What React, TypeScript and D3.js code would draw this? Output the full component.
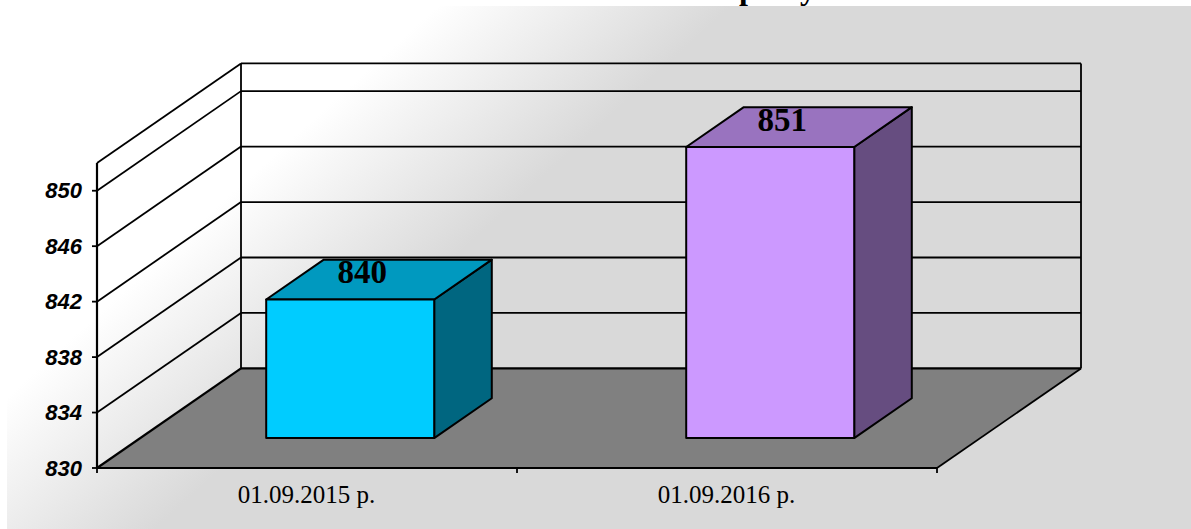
import React from "react";
import * as d3 from "d3";

const categories = ["01.09.2015 р.", "01.09.2016 р."];
const values = [840, 851];
const frontColors = ["#00CCFF", "#CC99FF"];
const topColors = ["#0099BF", "#9973BF"];
const sideColors = ["#006680", "#664D80"];
const yTicks = [830, 834, 838, 842, 846, 850];
const gridValues = [834, 838, 842, 846, 850];
const yDomain = [830, 852];
const titleFragments = [
  { text: "р", x: 739 },
  { text: "у", x: 800 },
];

const W = 1191;
const H = 529;
const x = d3.scaleBand<string>().domain(categories).range([97, 937]).paddingInner(0).paddingOuter(0);
const y = d3.scaleLinear().domain(yDomain).range([468, 163]);
const depthX = d3.scaleLinear().domain([0, 1]).range([0, 144]);
const depthY = d3.scaleLinear().domain([0, 1]).range([0, -99.6]);

// 3D projection: front-plane x, value, depth (0 = front, 1 = back)
const P = (px: number, v: number, z: number): [number, number] => [px + depthX(z), y(v) + depthY(z)];
const path = (pts: [number, number][]) => (d3.line()(pts) || "") + "Z";
const seg = (a: [number, number], b: [number, number]) => d3.line()([a, b]) || "";

const barZ0 = 0.3;
const barZ1 = 0.7;
const barPad = 0.3;
const v0 = yDomain[0];
const v1 = yDomain[1];
const x0 = 97;
const x1 = 937;

export default function App() {
  const stroke = { stroke: "#000", fill: "none" };
  return (
    <svg
      width={W}
      height={H}
      viewBox={`0 0 ${W} ${H}`}
      style={{ position: "fixed", left: 0, top: 0, display: "block", background: "#fff" }}
    >
      <defs>
        <linearGradient id="bg" gradientUnits="userSpaceOnUse" x1={201} y1={221} x2={333.5} y2={367}>
          <stop offset="0" stopColor="#ffffff" />
          <stop offset="1" stopColor="#d9d9d9" />
        </linearGradient>
      </defs>

      {titleFragments.map((t) => (
        <text key={t.x} x={t.x} y={-1} fontFamily="Liberation Serif" fontWeight="bold" fontSize={32} fill="#000">
          {t.text}
        </text>
      ))}
      <rect x={7} y={6} width={W - 7} height={H - 6} fill="url(#bg)" />

      {/* floor */}
      <path d={path([P(x0, v0, 0), P(x1, v0, 0), P(x1, v0, 1), P(x0, v0, 1)])} fill="#808080" />

      {/* gridlines */}
      {gridValues.map((v) => (
        <g key={v} {...stroke} strokeWidth={1.8}>
          <path d={seg(P(x0, v, 0), P(x0, v, 1))} />
          <path d={seg(P(x0, v, 1), P(x1, v, 1))} />
        </g>
      ))}

      {/* walls */}
      <g {...stroke} strokeWidth={1.8}>
        <path d={seg(P(x0, v1, 0), P(x0, v1, 1))} />
        <path d={seg(P(x0, v1, 1), P(x1, v1, 1))} />
        <path d={seg(P(x0, v0, 1), P(x0, v1, 1))} />
        <path d={seg(P(x1, v0, 1), P(x1, v1, 1))} />
        <path d={seg(P(x1, v0, 0), P(x1, v0, 1))} />
      </g>
      <g {...stroke} strokeWidth={2.2}>
        <path d={seg(P(x0, v0, 0), P(x0, v1, 0))} />
        <path d={seg(P(x0, v0, 0), P(x0, v0, 1))} />
        <path d={seg(P(x0, v0, 1), P(x1, v0, 1))} />
        <path d={seg(P(x0, v0, 0), P(x1, v0, 0))} />
      </g>

      {/* bars */}
      {categories.map((c, i) => {
        const band = x.bandwidth();
        const l = (x(c) as number) + band * barPad;
        const r = (x(c) as number) + band * (1 - barPad);
        const v = values[i];
        return (
          <g key={c} stroke="#000" strokeWidth={2} strokeLinejoin="round">
            <path
              d={path([P(r, v0, barZ0), P(r, v0, barZ1), P(r, v, barZ1), P(r, v, barZ0)])}
              fill={sideColors[i]}
            />
            <path
              d={path([P(l, v, barZ0), P(r, v, barZ0), P(r, v, barZ1), P(l, v, barZ1)])}
              fill={topColors[i]}
            />
            <path
              d={path([P(l, v0, barZ0), P(r, v0, barZ0), P(r, v, barZ0), P(l, v, barZ0)])}
              fill={frontColors[i]}
            />
          </g>
        );
      })}

      {/* data labels */}
      {categories.map((c, i) => {
        const [px, py] = P((x(c) as number) + x.bandwidth() / 2, values[i], barZ0);
        return (
          <text
            key={c}
            x={px + 12}
            y={py - 16}
            textAnchor="middle"
            fontFamily="Liberation Serif"
            fontWeight="bold"
            fontSize={33}
            fill="#000"
          >
            {values[i]}
          </text>
        );
      })}

      {/* y axis */}
      {yTicks.map((t) => (
        <g key={t}>
          <path d={seg([x0 - 5, y(t)], [x0, y(t)])} stroke="#000" strokeWidth={1.8} />
          <text
            x={82}
            y={y(t) + 7.5}
            textAnchor="end"
            fontFamily="Liberation Sans"
            fontWeight="bold"
            fontStyle="italic"
            fontSize={22}
            fill="#000"
          >
            {t}
          </text>
        </g>
      ))}

      {/* x axis */}
      {[x0, x0 + x.bandwidth(), x1].map((t) => (
        <path key={t} d={seg([t, 468], [t, 473])} stroke="#000" strokeWidth={1.8} />
      ))}
      {categories.map((c) => (
        <text
          key={c}
          x={(x(c) as number) + x.bandwidth() / 2 - 0.5}
          y={503}
          textAnchor="middle"
          fontFamily="Liberation Serif"
          fontSize={25}
          fill="#000"
        >
          {c}
        </text>
      ))}
    </svg>
  );
}
